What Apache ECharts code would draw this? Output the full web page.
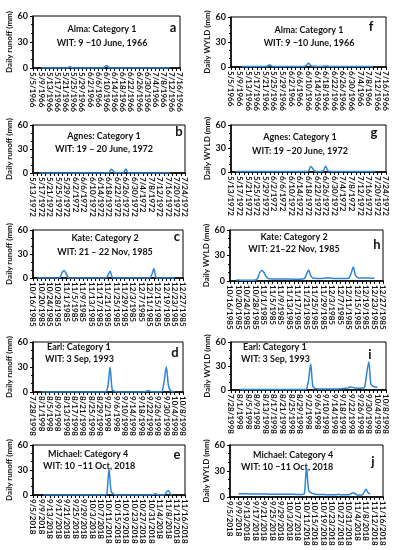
<!DOCTYPE html>
<html><head><meta charset="utf-8">
<script src="https://cdn.jsdelivr.net/npm/echarts@6/dist/echarts.min.js"></script>
<style>html,body{margin:0;padding:0;background:#fff}#c{width:398px;height:550px}</style>
</head><body><div id="c"></div>
<script>
// ---- Data ----
const startAlma = '1966-05-05', startAgnes = '1972-05-13', startKate = '1985-10-16', startEarl = '1998-07-28', startMichael = '2018-09-05';
const nDays = 73;
const yTicks = [0, 30, 60];

// runoff / WYLD series: first value is at day index given by *Start
const runoffAlmaStart = 4;
const runoffAlma = [0,0,0,0,0,0,0,0,0,0,0,0,0, 0.3,1.5,0.3, 0,0,0,0,0,0,0,0,0,0,0,0,0,0,0, 1,3,1, 0,0,0,0,0,0,0,0, 0.5, 0,0,0,0,0,0,0,0,0,0,0,0,0,0,0,0,0,0,0,0,0];
const wyldAlmaStart = 5;
const wyldAlma = [0.7,0.7,0.6,0.6,0.6,0.6,0.6,0.6,0.6,0.6,0.6,0.7, 1.2,2.6,1.0, 0.7,0.6,0.6,0.6,0.6,0.6,0.6,0.6,0.6,0.6,0.6,0.6,0.6,0.6,0.7, 2.0,4.5,2.0, 0.9,0.8,0.7,0.7,0.7,0.8, 1.3,0.9, 0.7,0.7,0.6,0.6,0.6,0.6,0.6,0.6,0.6,0.6,0.6,0.6,0.6,0.6,0.6,0.6,0.6,0.6,0.6,0.6,0.6];

const runoffAgnesStart = 3;
const runoffAgnes = [0,0,0,0,0,0,0,0,0,0,0,0,0,0,0,0,0,0,0,0,0,0,0,0,0,0,0,0,0,0,0,0,0, 0.3,4.8,2.5,0, 0,0,0, 1,5,0.5, 0,0,0,0,0,0,0,0,0,0,0,0,0,0,0,0,0,0,0,0];
const wyldAgnesStart = 2;
const wyldAgnes = [0.6,0.6,0.6,0.6,0.6,0.6,0.6,0.6,0.6,0.6,0.6,0.6,0.6,0.6,0.6,0.6,0.6,0.6,0.6,0.6,0.6,0.6,0.6,0.6,0.6,0.6,0.6,0.6,0.6,0.6,0.6,0.6,0.6,0.6, 1.2,7,4.5,1, 0.7,0.6,0.6, 2,7.5,1.5, 0.6,0.6,0.6,0.6,0.6,0.6,0.6,0.6,0.6,0.6,0.6,0.6,0.6,0.6,0.6,0.6,0.6,0.6,0.6,0.6,0.6,0.6];

const runoffKateStart = 2;
const runoffKate = [0,0,0,0,0,0,0,0,0,0,0, 1,7,9.5,5,0.5, 0,0,0,0,0,0,0,0,0,0,0,0,0,0,0,0,0,0, 4,8.5,1, 0,0,0,0,0,0,0,0,0,0,0,0,0,0,0,0,0,0, 4,11.5,1, 0,0,0,0,0,0,0,0,0];
const wyldKateStart = 3;
const wyldKate = [1.2,1.1,1.0,1.0,0.9,0.9,0.9,0.9,1.0,1.2, 3,10,12.5,10,5,3, 2.6,2.5,2.5,2.4,2.4,2.4,2.3,2.3,2.3,2.3,2.2,2.2,2.2,2.2,2.2,2.3, 3,8,13,6,3.5, 3.1,3.0,3.0,3.0,3.1, 3.3,3.8,3.5, 3.1,3.0,3.0,3.0,2.9,2.9,2.9,3.0, 3.5,9,16.5,7,4, 3.6,3.5,3.5,3.4,3.4,3.4,3.3,3.3];

const runoffEarlStart = 4;
const runoffEarl = [0,0,0,0,0,0,0,0,0,0,0,0,0,0,0,0,0,0,0,0,0,0,0,0,0,0,0,0,0,0,0, 0.3,8,29.5,3,1, 0,0,0,0,0,0,0,0,0,0,0,0,0,0, 0.5,1.5,1.2,0.3, 0,0,0,0, 1,14,30,8,1.5,0.5,0.3];
const wyldEarlStart = 4;
const wyldEarl = [0.5,0.5,0.5,0.5,0.5,0.5,0.5,0.5,0.5,0.5,0.5,0.5,0.5,0.5,0.5,0.5,0.5,0.5,0.5,0.5,0.5,0.5,0.5,0.5,0.5,0.5,0.5,0.5,0.5,0.5,0.5, 1,12,32.5,5,2, 1.5,1.3,1.2,1.2,1.2,1.2,1.2,1.2,1.3,1.3,1.4,1.5, 1.8,2.2,2.0,3.5,3.8,2.8, 2.4,2.3,2.3,2.4, 3,20,35,7,4.5,3.8,3.5];

const runoffMichaelStart = 5;
const runoffMichael = [0,0,0,0,0,0,0,0,0,0,0,0,0,0,0,0,0,0,0,0,0,0,0,0,0,0,0,0,0,0, 2,31,4,1.5,0.3, 0,0,0,0,0,0,0,0,0,0,0,0,0,0,0,0,0, 0.5,1.5,0.3, 0,0,0, 2.5,5.5,1.5,0.3];
const wyldMichaelStart = 4;
const wyldMichael = [3.8,3.8,3.7,3.7,3.7,3.6,3.6,3.6,3.5,3.5,3.5,3.4,3.4,3.4,3.4,3.3,3.3,3.3,3.3,3.2,3.2,3.2,3.2,3.1,3.1,3.1,3.1,3.0,3.0,3.0,3.0, 4,34,8,5,4, 3.2,3.0,2.9,2.8,2.8,2.7,2.7,2.6,2.6,2.6,2.6, 3.2,2.6, 2.5,2.5,2.5,2.6, 4,5,3.5, 2.3,2.2,2.4, 5,8.8,5,3.5];

const titles1 = ['Alma: Category 1','Agnes: Category 1','Kate: Category 2','Earl: Category 1','Michael: Category 4'];
const titles2L = ['WIT: 9 \u221210 June, 1966','WIT: 19 \u2013 20 June, 1972','WIT: 21 \u2013 22 Nov, 1985','WIT: 3 Sep, 1993','WIT: 10 \u221211 Oct, 2018'];
const titles2R = ['WIT: 9 \u221210 June, 1966','WIT: 19 \u221220 June, 1972','WIT: 21\u201322 Nov, 1985','WIT: 3 Sep, 1993','WIT: 10 \u221211 Oct, 2018'];
const lettersL = ['a','b','c','d','e'];
const lettersR = ['f','g','h','i','j'];
const yNameL = 'Daily runoff (mm)';
const yNameR = 'Daily WYLD (mm)';

// ---- Build ----
function makeDates(start, n) {
  const d0 = new Date(start + 'T00:00:00Z');
  const out = [];
  for (let i = 0; i < n; i++) {
    const d = new Date(d0.getTime() + i * 86400000);
    out.push((d.getUTCMonth() + 1) + '/' + d.getUTCDate() + '/' + d.getUTCFullYear());
  }
  return out;
}
function pad(start, vals) {
  const arr = new Array(nDays).fill(null);
  vals.forEach((v, i) => { arr[start + i] = v; });
  return arr;
}
const FONT = 'Lato, "Open Sans", sans-serif';
const starts = [startAlma, startAgnes, startKate, startEarl, startMichael];
const leftSeries = [[runoffAlmaStart, runoffAlma],[runoffAgnesStart, runoffAgnes],[runoffKateStart, runoffKate],[runoffEarlStart, runoffEarl],[runoffMichaelStart, runoffMichael]];
const rightSeries = [[wyldAlmaStart, wyldAlma],[wyldAgnesStart, wyldAgnes],[wyldKateStart, wyldKate],[wyldEarlStart, wyldEarl],[wyldMichaelStart, wyldMichael]];

// layout boxes [left, top, width, height]
const boxesL = [[33,16,147,52],[33,125,152,48],[33,230,150,48],[33,342,150,50],[33,445,152,50]];
const boxesR = [[231,17,155,50],[231,125,155,47],[230,230,153,51],[231,342,155,48],[230,445,153,52]];
// text positions
const titlePosL = [[102,29,43,'center'],[104,136,149,'center'],[105,238,252,'center'],[47,347,359,'left'],[48,454,466,'left']];
const titlePosR = [[309,30,43,'center'],[300,137,151,'center'],[294,237,249,'center'],[243,347,359,'left'],[253,455,467,'left']];
const titleX2L = [102,104,105,45,43];
const titleX2R = [309,300,294,241,241];
const letterPosL = [[173,28],[179,132],[177,237],[175,353],[177,455]];
const letterPosR = [[371,27],[374,133],[377,245],[370,355],[373,462]];

const grid = [], xAxis = [], yAxis = [], series = [], graphic = [];
function addPanel(box, start, ser, yName) {
  const idx = grid.length;
  grid.push({left: box[0], top: box[1], width: box[2], height: box[3], show: true, borderColor: '#000', borderWidth: 1, backgroundColor: 'transparent'});
  xAxis.push({
    gridIndex: idx, type: 'category', boundaryGap: false, data: makeDates(start, nDays),
    axisLine: {show: true, lineStyle: {color: '#000', width: 1.5}},
    axisTick: {show: true, interval: 1, length: 3, lineStyle: {color: '#000'}},
    axisLabel: {interval: 3, rotate: -90, fontSize: 8, fontWeight: 'bold', color: '#111', fontFamily: FONT, margin: 4}
  });
  yAxis.push({
    gridIndex: idx, type: 'value', min: yTicks[0], max: yTicks[2], interval: yTicks[1] - yTicks[0],
    axisLine: {show: true, lineStyle: {color: '#000', width: 1.5}},
    axisTick: {show: true, length: 3, lineStyle: {color: '#000'}},
    minorTick: {show: true, splitNumber: 3, length: 2, lineStyle: {color: '#000'}},
    splitLine: {show: false},
    axisLabel: {fontSize: 9, fontWeight: 'bold', color: '#111', fontFamily: FONT, margin: 5},
    name: yName, nameLocation: 'middle', nameGap: 17,
    nameTextStyle: {fontSize: 8, fontWeight: 'bold', color: '#111', fontFamily: FONT}
  });
  series.push({
    type: 'line', xAxisIndex: idx, yAxisIndex: idx, data: pad(ser[0], ser[1]),
    smooth: 0.3, symbol: 'none', connectNulls: false,
    lineStyle: {color: '#2f86d8', width: 1.5}
  });
}
for (let i = 0; i < 5; i++) {
  addPanel(boxesL[i], starts[i], leftSeries[i], yNameL);
  addPanel(boxesR[i], starts[i], rightSeries[i], yNameR);
}
function txt(x, y, s, size, align) {
  graphic.push({type: 'text', x: x, y: y, style: {text: s, font: 'bold ' + size + 'px ' + FONT, fill: '#111', textAlign: align, textVerticalAlign: 'middle'}});
}
for (let i = 0; i < 5; i++) {
  const pL = titlePosL[i], pR = titlePosR[i];
  txt(pL[0], pL[1], titles1[i], 9, pL[3]);
  txt(titleX2L[i], pL[2], titles2L[i], 9, pL[3]);
  txt(pR[0], pR[1], titles1[i], 9, pR[3]);
  txt(titleX2R[i], pR[2], titles2R[i], 9, pR[3]);
  txt(letterPosL[i][0], letterPosL[i][1], lettersL[i], 13, 'center');
  txt(letterPosR[i][0], letterPosR[i][1], lettersR[i], 13, 'center');
}

const chart = echarts.init(document.getElementById('c'), null, {renderer: 'canvas'});
chart.setOption({animation: false, backgroundColor: '#fff', grid, xAxis, yAxis, series, graphic});
</script>
</body></html>
